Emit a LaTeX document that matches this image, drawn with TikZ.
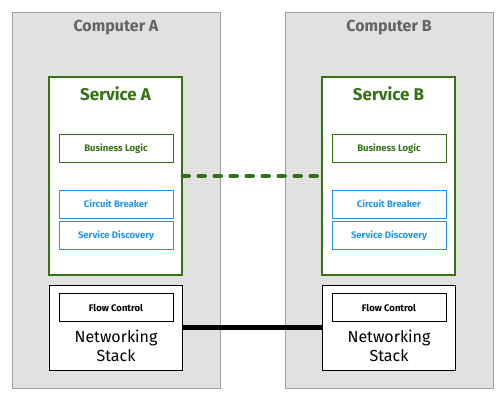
\documentclass[tikz,border=0pt]{standalone}
\usepackage{fontspec}
\setsansfont{Fira Sans}
\usetikzlibrary{positioning}
\definecolor{svcGreen}{RGB}{52,115,20}
\definecolor{libBlue}{RGB}{35,150,235}
\definecolor{hostGray}{RGB}{225,225,225}
\definecolor{hostEdge}{RGB}{160,160,160}
\definecolor{titleGray}{RGB}{100,100,100}
\tikzset{
    font=\sffamily,
    % Boxes
    host/.style={rectangle, draw=hostEdge, fill=hostGray, minimum width=208pt, minimum height=376pt, inner sep=0pt},
    hostTitle/.style={font=\fontsize{16}{19}\selectfont\sffamily\bfseries, text=titleGray},
    service/.style={rectangle, draw=svcGreen, line width=1.5pt, fill=white, minimum width=133pt, minimum height=198pt, inner sep=0pt},
    serviceTitle/.style={font=\fontsize{17}{20}\selectfont\sffamily\bfseries, text=svcGreen},
    part/.style={rectangle, draw=svcGreen, fill=white, minimum width=114pt, minimum height=28pt, inner sep=0pt,
                 font=\fontsize{9.5}{11}\selectfont\sffamily\bfseries, text=svcGreen},
    lib/.style={part, draw=libBlue, text=libBlue},
    netstack/.style={rectangle, draw=black, thick, fill=white, minimum width=133pt, minimum height=85pt, inner sep=0pt},
    flowctl/.style={part, draw=black, text=black},
    stackText/.style={font=\fontsize{16}{19.5}\selectfont\sffamily, align=center},
    % Links
    logical/.style={svcGreen, line width=4.5pt, line cap=round, dash pattern=on 6pt off 10pt},
    physical/.style={black, line width=5pt}
}

\begin{document}
\begin{tikzpicture}[x=1pt, y=-1pt]
\useasboundingbox (0,0) rectangle (504,400);

% Computer A
\node[host] (hostA) at (116,200) {};
\node[hostTitle] (titleA) at (116,28) {Computer A};
\node[service] (svcA) at (115.5,176) {};
\node[serviceTitle] (svcTitleA) at (115.5,94) {Service A};
\node[part] (logicA) at (116,148.5) {Business Logic};
\node[lib] (breakerA) at (116,204) {Circuit Breaker};
\node[lib, below=3pt of breakerA] (discA) {Service Discovery};
\node[netstack] (netA) at (115.5,327.5) {};
\node[flowctl] (flowA) at (116,307.5) {Flow Control};
\node[stackText] (stackA) at (116,346) {Networking\\Stack};

% Computer B
\node[host] (hostB) at (389,200) {};
\node[hostTitle] (titleB) at (389,28) {Computer B};
\node[service] (svcB) at (388.5,176) {};
\node[serviceTitle] (svcTitleB) at (388.5,94) {Service B};
\node[part] (logicB) at (389,148.5) {Business Logic};
\node[lib] (breakerB) at (389,204) {Circuit Breaker};
\node[lib, below=3pt of breakerB] (discB) {Service Discovery};
\node[netstack] (netB) at (388.5,327.5) {};
\node[flowctl] (flowB) at (389,307.5) {Flow Control};
\node[stackText] (stackB) at (389,346) {Networking\\Stack};

% Links
\draw[logical] (svcA) -- (svcB);
\draw[physical] (netA) -- (netB);

\end{tikzpicture}
\end{document}
